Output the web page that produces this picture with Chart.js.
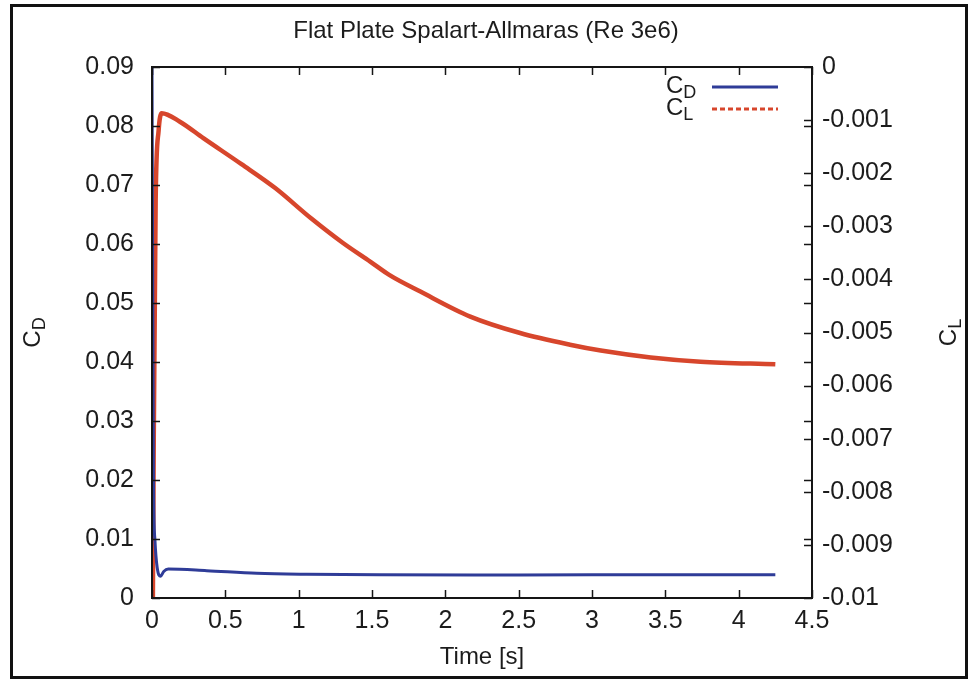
<!DOCTYPE html>
<html><head><meta charset="utf-8">
<script src="https://cdn.jsdelivr.net/npm/chart.js@4"></script>
<style>html,body{margin:0;padding:0;background:#fff}#wrap{width:972px;height:681px}</style>
</head><body><div id="wrap"><canvas id="c" width="972" height="681"></canvas></div>
<script>
// ---- data ----
const timeCD = [0, 0.01, 0.02, 0.035, 0.059, 0.08, 0.111, 0.373, 0.714, 1.055, 1.55, 2.5, 3.5, 4.25];
const cd     = [0.09, 0.02, 0.0098, 0.0052, 0.0037, 0.0045, 0.0049, 0.00463, 0.00419, 0.00402, 0.00392, 0.0039, 0.00395, 0.00395];
const timeCL = [0.005, 0.012, 0.025, 0.045, 0.066, 0.19, 0.35, 0.61, 0.84, 1.08, 1.30, 1.49, 1.62, 1.83, 2.17, 2.51, 2.85, 3.06, 3.40, 3.74, 4.25];
const cl     = [-0.0105, -0.007, -0.0025, -0.0012, -0.00087, -0.00103, -0.00134, -0.00183, -0.00228, -0.00284, -0.00331, -0.00367, -0.00392, -0.00423, -0.00470, -0.00501, -0.00523, -0.00534, -0.00547, -0.00555, -0.00560];

const xTicks = [0, 0.5, 1, 1.5, 2, 2.5, 3, 3.5, 4, 4.5];
const xTickLabels = ['0', '0.5', '1', '1.5', '2', '2.5', '3', '3.5', '4', '4.5'];
const cdTicks = [0, 0.01, 0.02, 0.03, 0.04, 0.05, 0.06, 0.07, 0.08, 0.09];
const cdTickLabels = ['0', '0.01', '0.02', '0.03', '0.04', '0.05', '0.06', '0.07', '0.08', '0.09'];
const clTicks = [-0.01, -0.009, -0.008, -0.007, -0.006, -0.005, -0.004, -0.003, -0.002, -0.001, 0];
const clTickLabels = ['-0.01', '-0.009', '-0.008', '-0.007', '-0.006', '-0.005', '-0.004', '-0.003', '-0.002', '-0.001', '0'];

const titleText = 'Flat Plate Spalart-Allmaras (Re 3e6)';
const xTitle = 'Time [s]';
const seriesNames = [['C', 'D'], ['C', 'L']];

const FONT = "'Liberation Sans', Arial, Helvetica, sans-serif";
const TXT = '#1c1c1c';
const BLUE = '#2f3c98';
const RED = '#d7462c';

function drawSub(ctx, main, sub, x, y, big, small, off) {
  ctx.font = big + 'px ' + FONT;
  ctx.fillText(main, x, y);
  const w = ctx.measureText(main).width;
  ctx.font = small + 'px ' + FONT;
  ctx.fillText(sub, x + w, y + off);
}

const decor = {
  id: 'decor',
  beforeDraw(chart) {
    const ctx = chart.ctx;
    ctx.save();
    ctx.fillStyle = '#fff';
    ctx.fillRect(0, 0, chart.width, chart.height);
    ctx.restore();
  },
  afterDatasetsDraw(chart) {
    const { ctx, chartArea: a, scales } = chart;
    ctx.save();
    ctx.strokeStyle = '#151515';
    ctx.lineWidth = 1.5;
    const L = 8;
    ctx.beginPath();
    xTicks.forEach(v => {
      const p = Math.round(scales.x.getPixelForValue(v)) + 0.5;
      ctx.moveTo(p, a.bottom); ctx.lineTo(p, a.bottom - L);
      ctx.moveTo(p, a.top); ctx.lineTo(p, a.top + L);
    });
    cdTicks.forEach(v => {
      const p = Math.round(scales.y.getPixelForValue(v)) + 0.5;
      ctx.moveTo(a.left, p); ctx.lineTo(a.left + L, p);
      ctx.moveTo(a.right, p); ctx.lineTo(a.right - L, p);
    });
    clTicks.forEach(v => {
      const p = Math.round(scales.y2.getPixelForValue(v)) + 0.5;
      ctx.moveTo(a.right, p); ctx.lineTo(a.right - L, p);
    });
    ctx.stroke();
    ctx.lineWidth = 2;
    ctx.strokeRect(a.left, a.top, a.right - a.left, a.bottom - a.top);

    // legend
    const ds = chart.data.datasets;
    ctx.fillStyle = TXT;
    ctx.textBaseline = 'alphabetic';
    ctx.textAlign = 'left';
    const rows = [93, 115];
    ds.forEach((d, i) => {
      drawSub(ctx, seriesNames[i][0], seriesNames[i][1], 666, rows[i], 24, 18, 5);
      ctx.beginPath();
      ctx.strokeStyle = d.borderColor;
      ctx.lineWidth = 3;
      ctx.setLineDash(i === 1 ? [5, 3] : []);
      const ly = rows[i] - 6;
      ctx.moveTo(712, ly); ctx.lineTo(778, ly);
      ctx.stroke();
    });
    ctx.setLineDash([]);

    // axis titles (rotated, with subscripts)
    const mid = (a.top + a.bottom) / 2;
    ctx.fillStyle = TXT;
    [[40, 0], [956, 1]].forEach(([bx, i]) => {
      ctx.save();
      ctx.font = '24px ' + FONT;
      const w1 = ctx.measureText(seriesNames[i][0]).width;
      ctx.font = '18px ' + FONT;
      const w2 = ctx.measureText(seriesNames[i][1]).width;
      ctx.translate(bx, mid + (w1 + w2) / 2);
      ctx.rotate(-Math.PI / 2);
      drawSub(ctx, seriesNames[i][0], seriesNames[i][1], 0, 0, 24, 18, 5);
      ctx.restore();
    });

    // outer frame
    ctx.strokeStyle = '#111';
    ctx.lineWidth = 3;
    ctx.strokeRect(11.5, 5.5, 955, 672);
    ctx.restore();
  }
};

const tickFont = { family: FONT, size: 25 };

new Chart(document.getElementById('c'), {
  type: 'line',
  data: {
    datasets: [
      {
        label: 'CD',
        data: timeCD.map((t, i) => ({ x: t, y: cd[i] })),
        borderColor: BLUE, borderWidth: 3, pointRadius: 0,
        cubicInterpolationMode: 'monotone', yAxisID: 'y', fill: false
      },
      {
        label: 'CL',
        data: timeCL.map((t, i) => ({ x: t, y: cl[i] })),
        borderColor: RED, borderWidth: 4.5, pointRadius: 0,
        cubicInterpolationMode: 'monotone', yAxisID: 'y2', fill: false
      }
    ]
  },
  options: {
    responsive: false,
    animation: false,
    devicePixelRatio: 1,
    layout: { padding: 0 },
    plugins: {
      legend: { display: false },
      tooltip: { enabled: false },
      title: {
        display: true, text: titleText, color: TXT,
        font: { family: FONT, size: 24, weight: 'normal' },
        padding: { top: 17, bottom: 21.2 }
      }
    },
    scales: {
      x: {
        type: 'linear', position: 'bottom', min: 0, max: 4.5,
        afterBuildTicks: s => { s.ticks = xTicks.map(v => ({ value: v })); },
        afterFit: s => { s.height = 83; },
        ticks: { callback: (v, i) => xTickLabels[i], font: tickFont, color: TXT, padding: 8, maxRotation: 0, autoSkip: false },
        grid: { display: true, drawOnChartArea: false, drawTicks: false },
        border: { display: false },
        title: { display: true, text: xTitle, color: TXT, font: { family: FONT, size: 24, weight: 'normal' }, padding: { top: 0, bottom: 9 } }
      },
      y: {
        type: 'linear', position: 'left', min: 0, max: 0.09,
        afterBuildTicks: s => { s.ticks = cdTicks.map(v => ({ value: v })); },
        afterFit: s => { s.width = 152; },
        ticks: { callback: (v, i) => cdTickLabels[i], font: tickFont, color: TXT, padding: 18, autoSkip: false },
        grid: { display: true, drawOnChartArea: false, drawTicks: false },
        border: { display: false }
      },
      y2: {
        type: 'linear', position: 'right', min: -0.01, max: 0,
        afterBuildTicks: s => { s.ticks = clTicks.map(v => ({ value: v })); },
        afterFit: s => { s.width = 160; },
        ticks: { callback: (v, i) => clTickLabels[i], font: tickFont, color: TXT, padding: 10, autoSkip: false },
        grid: { display: true, drawOnChartArea: false, drawTicks: false },
        border: { display: false }
      }
    }
  },
  plugins: [decor]
});
</script>
</body></html>
